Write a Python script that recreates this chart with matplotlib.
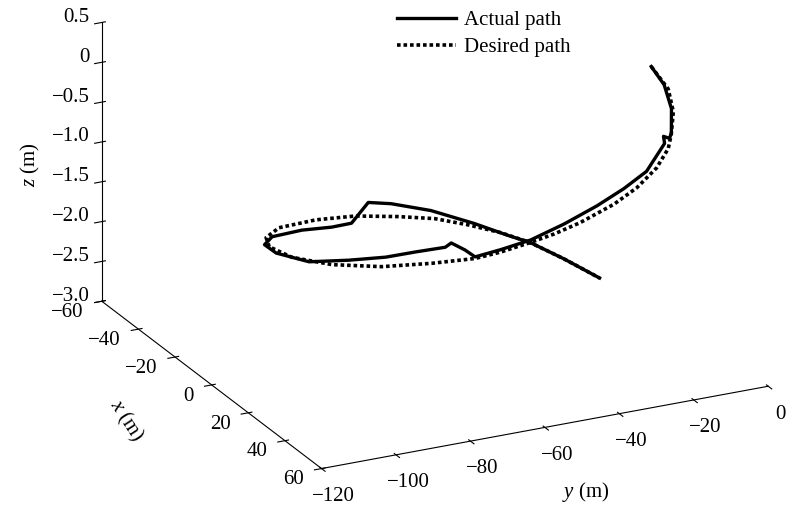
import matplotlib.pyplot as plt

plt.rcParams['font.family'] = ['Liberation Serif', 'DejaVu Serif']
plt.rcParams['mathtext.fontset'] = 'custom'
plt.rcParams['mathtext.it'] = 'Liberation Serif:italic'
plt.rcParams['mathtext.rm'] = 'Liberation Serif'

# actual path (m)
x_act = [0, 5, 9, 13, 14, 14, 15, 20, 23, 25, 26, 28, 29, 30, 30, 30, 30, 30,
         28, 24, 17, 8, 1, -6, -14, -19, -21, -22, -23, -24, -22, -20, -18, -16, -14]
y_act = [-1.9, -0.9, -0.9, -2.9, -3.9, -5.5, -5.7, -13.0, -20.6, -28.8, -38.1,
         -48.1, -56.6, -64.0, -66.7, -70.4, -72.0, -80.0, -87.0, -94.9, -102.2,
         -106.6, -106.3, -100.8, -88.9, -78.4, -72.1, -67.1, -60.5, -49.3, -38.6,
         -30.7, -25.6, -17.5, -8.9]
z_act = [-0.02, -0.17, -0.40, -0.62, -0.66, -0.62, -0.69, -0.89, -0.99, -1.10,
         -1.23, -1.31, -1.34, -1.35, -1.24, -1.12, -1.16, -1.15, -1.19, -1.23,
         -1.31, -1.32, -1.34, -1.41, -1.57, -1.71, -1.75, -1.55, -1.64, -1.84,
         -2.06, -2.24, -2.34, -2.58, -2.86]

# desired path (m)
x_des = [0, 6, 10, 14, 17, 20, 22, 24, 26, 27, 28, 29, 30, 30, 28, 22, 14, 5,
         -2, -10, -18, -22, -24, -24, -22, -20, -18, -16, -14]
y_des = [-1.9, -0.3, -0.9, -3.4, -5.7, -10.3, -16.6, -23.7, -33.8, -41.2, -48.1,
         -56.6, -64.0, -75.7, -88.1, -98.5, -105.3, -107.0, -104.4, -97.0, -83.2,
         -70.6, -58.1, -48.3, -40.4, -32.6, -25.6, -17.5, -8.9]
z_des = [-0.02, -0.21, -0.42, -0.61, -0.72, -0.87, -1.03, -1.14, -1.25, -1.31,
         -1.34, -1.37, -1.37, -1.33, -1.30, -1.29, -1.28, -1.29, -1.32, -1.40,
         -1.56, -1.69, -1.84, -1.95, -2.06, -2.19, -2.34, -2.58, -2.86]

x_ticks = [-60, -40, -20, 0, 20, 40, 60]
x_labels = ['\u221260', '\u221240', '\u221220', '0', '20', '40', '60']
y_ticks = [-120, -100, -80, -60, -40, -20, 0]
y_labels = ['\u2212120', '\u2212100', '\u221280', '\u221260', '\u221240', '\u221220', '0']
z_ticks = [-3.0, -2.5, -2.0, -1.5, -1.0, -0.5, 0, 0.5]
z_labels = ['\u22123.0', '\u22122.5', '\u22122.0', '\u22121.5', '\u22121.0',
            '\u22120.5', '0', '0.5']

fig = plt.figure(figsize=(7.87, 5.09), dpi=100)
ax = fig.add_axes([0.044, 0.085, 1, 1], projection='3d', proj_type='ortho')

ax.plot(x_act, y_act, z_act, color='black', lw=2.4, label='Actual path')
ax.plot(x_des, y_des, z_des, color='black', lw=2.6, ls=(0, (1, 0.8)),
        label='Desired path')

ax.set_xlim(-60, 60)
ax.set_ylim(-120, 0)
ax.set_zlim(-3, 0.5)
ax.set_xticks(x_ticks)
ax.set_yticks(y_ticks)
ax.set_zticks(z_ticks)

ax.view_init(elev=22, azim=-26.2)
ax.set_box_aspect((1, 1, 0.604), zoom=1.46)
ax.grid(False)
for a, n in ((ax.xaxis, len(x_ticks)), (ax.yaxis, len(y_ticks)),
             (ax.zaxis, len(z_ticks))):
    a.pane.set_visible(False)
    a.line.set_linewidth(0.8)
    for tick in a.get_major_ticks(n):
        tick.label1.set_visible(False)
        tick.label2.set_visible(False)
ax.zaxis.set_ticks_position('lower')

# tick labels, placed next to their ticks in data space
for t, s in zip(x_ticks, x_labels):
    ax.text(t, -124.8, -3.1, s, ha='right', va='center', fontsize=15)
for t, s in zip(y_ticks, y_labels):
    ax.text(66.5, t, -3.236, s, ha='center', va='center', fontsize=15)
for t, s in zip(z_ticks, z_labels):
    ax.text(-64.2, -121.2, t, s, ha='right', va='center', fontsize=15)

fig.text(30 / 787, 1 - 165 / 509, '$z$ (m)', rotation=90, ha='center',
         va='center', fontsize=15)
fig.text(126 / 787, 1 - 421 / 509, '$x$ (m)', rotation=-57, ha='center',
         va='center', fontsize=15)
fig.text(586 / 787, 1 - 492 / 509, '$y$ (m)', ha='center', va='center',
         fontsize=15)

fig.legend(loc='upper left', bbox_to_anchor=(0.481, 1.016), frameon=False,
           fontsize=15, handlelength=2.8, handletextpad=0.4, labelspacing=0.35)

fig.savefig('out.png', dpi=100)
